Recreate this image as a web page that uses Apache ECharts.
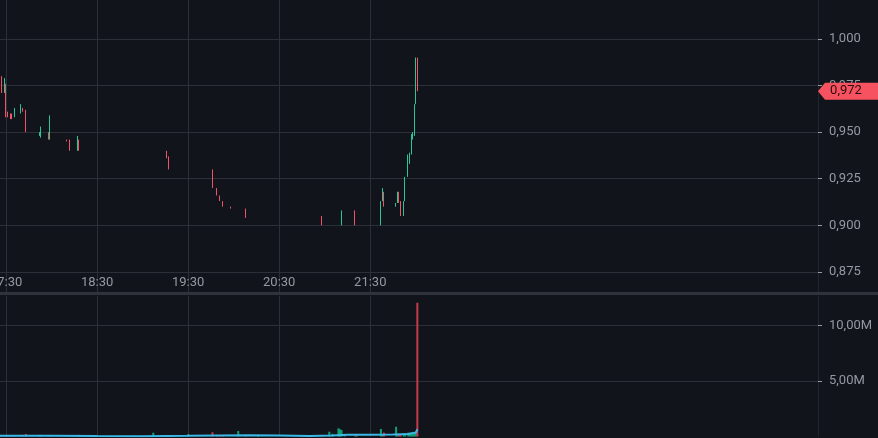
<!DOCTYPE html>
<html>
<head>
    <meta charset="UTF-8">
    <title>Candles 1m</title>
    <script src="https://cdn.jsdelivr.net/npm/echarts@6/dist/echarts.min.js"></script>
    <style>
        html, body { margin: 0; padding: 0; background: #12141b; }
        #chart { width: 878px; height: 438px; }
    </style>
</head>
<body>
<div id="chart"></div>
<script>
    // 1 minute bars: [time, open, close, low, high]
    var candles = [
        ['17:26', 0.983, 0.976, 0.975, 0.984],
        ['17:27', 0.979, 0.971, 0.971, 0.980],
        ['17:29', 0.971, 0.978, 0.971, 0.979],
        ['17:30', 0.975, 0.960, 0.958, 0.976],
        ['17:31', 0.961, 0.958, 0.958, 0.961],
        ['17:33', 0.960, 0.958, 0.957, 0.960],
        ['17:34', 0.959, 0.958, 0.957, 0.960],
        ['17:36', 0.958, 0.963, 0.958, 0.963],
        ['17:40', 0.960, 0.965, 0.960, 0.965],
        ['17:41', 0.963, 0.961, 0.961, 0.963],
        ['17:43', 0.962, 0.950, 0.950, 0.962],
        ['17:52', 0.948, 0.950, 0.948, 0.950],
        ['17:53', 0.947, 0.953, 0.947, 0.953],
        ['17:58', 0.950, 0.946, 0.946, 0.950],
        ['17:59', 0.946, 0.959, 0.946, 0.959],
        ['18:10', 0.946, 0.945, 0.945, 0.946],
        ['18:12', 0.946, 0.940, 0.940, 0.946],
        ['18:17', 0.940, 0.948, 0.940, 0.948],
        ['18:18', 0.946, 0.940, 0.940, 0.946],
        ['19:16', 0.940, 0.937, 0.936, 0.940],
        ['19:17', 0.937, 0.930, 0.930, 0.937],
        ['19:46', 0.930, 0.920, 0.920, 0.930],
        ['19:49', 0.920, 0.916, 0.916, 0.920],
        ['19:51', 0.916, 0.913, 0.913, 0.916],
        ['19:53', 0.913, 0.910, 0.910, 0.913],
        ['19:58', 0.910, 0.909, 0.909, 0.910],
        ['20:08', 0.909, 0.904, 0.904, 0.909],
        ['20:58', 0.905, 0.900, 0.900, 0.905],
        ['21:11', 0.900, 0.908, 0.900, 0.908],
        ['21:20', 0.908, 0.900, 0.900, 0.908],
        ['21:37', 0.900, 0.913, 0.900, 0.913],
        ['21:38', 0.913, 0.920, 0.913, 0.920],
        ['21:39', 0.918, 0.910, 0.910, 0.918],
        ['21:47', 0.910, 0.912, 0.910, 0.912],
        ['21:48', 0.912, 0.918, 0.912, 0.918],
        ['21:49', 0.918, 0.912, 0.912, 0.918],
        ['21:50', 0.912, 0.905, 0.905, 0.913],
        ['21:52', 0.905, 0.912, 0.905, 0.913],
        ['21:53', 0.913, 0.926, 0.913, 0.926],
        ['21:55', 0.926, 0.937, 0.926, 0.938],
        ['21:56', 0.933, 0.939, 0.933, 0.939],
        ['21:57', 0.938, 0.949, 0.938, 0.949],
        ['21:58', 0.946, 0.949, 0.946, 0.950],
        ['21:59', 0.948, 0.965, 0.948, 0.965],
        ['22:00', 0.965, 0.990, 0.965, 0.990],
        ['22:01', 0.990, 0.972, 0.972, 0.990]
    ];

    // [time, volume, direction (1 up / -1 down)]
    var volumes = [
        ['17:26', 0.10e6, -1], ['17:27', 0.08e6, -1], ['17:29', 0.05e6, 1],
        ['17:30', 0.12e6, -1], ['17:31', 0.04e6, -1], ['17:33', 0.03e6, -1],
        ['17:34', 0.03e6, -1], ['17:36', 0.06e6, 1], ['17:40', 0.05e6, 1],
        ['17:41', 0.03e6, -1], ['17:43', 0.23e6, -1], ['17:52', 0.05e6, 1],
        ['17:53', 0.14e6, 1], ['17:58', 0.05e6, -1], ['17:59', 0.10e6, 1],
        ['18:10', 0.02e6, -1], ['18:12', 0.05e6, -1], ['18:17', 0.08e6, 1],
        ['18:18', 0.15e6, -1], ['19:07', 0.34e6, 1], ['19:16', 0.10e6, -1],
        ['19:17', 0.08e6, -1], ['19:30', 0.22e6, 1], ['19:46', 0.38e6, -1],
        ['19:49', 0.08e6, -1], ['19:51', 0.10e6, -1], ['19:53', 0.08e6, -1],
        ['20:03', 0.50e6, 1], ['20:08', 0.10e6, -1], ['20:16', 0.12e6, 1],
        ['20:58', 0.10e6, -1], ['21:03', 0.43e6, 1], ['21:05', 0.25e6, 1],
        ['21:09', 0.74e6, 1], ['21:10', 0.65e6, 1], ['21:11', 0.59e6, 1],
        ['21:13', 0.20e6, 1], ['21:20', 0.10e6, -1], ['21:21', 0.10e6, 1],
        ['21:37', 0.68e6, 1], ['21:38', 0.20e6, 1], ['21:39', 0.35e6, -1],
        ['21:47', 0.88e6, 1], ['21:48', 0.20e6, 1], ['21:49', 0.15e6, -1],
        ['21:50', 0.20e6, -1], ['21:52', 0.30e6, 1], ['21:53', 0.30e6, 1],
        ['21:55', 0.35e6, 1], ['21:56', 0.30e6, 1], ['21:57', 0.38e6, 1],
        ['21:58', 0.30e6, 1], ['21:59', 0.42e6, 1], ['22:00', 0.45e6, 1],
        ['22:01', 12.05e6, -1]
    ];

    // volume moving average, [time, value]
    var volumeMa = [
        ['17:26', 0.06e6], ['18:00', 0.06e6], ['18:30', 0.04e6], ['19:00', 0.03e6],
        ['19:30', 0.06e6], ['19:50', 0.10e6], ['20:10', 0.12e6], ['20:30', 0.08e6],
        ['20:50', 0.04e6], ['21:05', 0.08e6], ['21:15', 0.15e6], ['21:30', 0.15e6],
        ['21:45', 0.18e6], ['21:55', 0.22e6], ['22:00', 0.35e6], ['22:01', 0.65e6]
    ];

    var timeLabels = ['17:30', '18:30', '19:30', '20:30', '21:30'];
    var priceTicks = [0.875, 0.900, 0.925, 0.950, 0.975, 1.000];
    var volumeTicks = [5e6, 10e6];

    var upColor = '#26c795', downColor = '#ef5466';
    var gridColor = '#2c2f38', textColor = '#9598a1';

    // minute slots on the time axis
    var startMinute = 17 * 60 + 26, minuteCount = 540;
    function pad(n) { return (n < 10 ? '0' : '') + n; }
    var minutes = [];
    for (var i = 0; i < minuteCount; i++) {
        var t = (startMinute + i) % 1440;
        minutes.push(pad(Math.floor(t / 60)) + ':' + pad(t % 60));
    }

    var lastClose = candles[candles.length - 1][2];
    function comma(v, d) { return v.toFixed(d).replace('.', ','); }
    function isLabel(idx, value) { return timeLabels.indexOf(value) >= 0; }

    var chart = echarts.init(document.getElementById('chart'));
    chart.setOption({
        backgroundColor: '#12141b',
        animation: false,
        textStyle: { fontFamily: 'Roboto, "Noto Sans", sans-serif' },
        graphic: [{
            type: 'rect', left: 0, top: 292, z: 10,
            shape: { width: 878, height: 3 },
            style: { fill: '#30333c' }
        }],
        grid: [
            { left: 0, right: 60, top: 0, height: 293, containLabel: false, outerBoundsMode: 'none' },
            { left: 0, right: 60, top: 296, height: 140.5, containLabel: false, outerBoundsMode: 'none' }
        ],
        xAxis: [{
            type: 'category', gridIndex: 0, data: minutes, boundaryGap: false,
            axisLine: { show: false },
            axisTick: { show: false },
            axisLabel: {
                inside: true, interval: isLabel, color: textColor,
                fontSize: 13, margin: 4
            },
            splitLine: { show: true, interval: isLabel, lineStyle: { color: gridColor } }
        }, {
            type: 'category', gridIndex: 1, data: minutes, boundaryGap: false,
            axisLine: { show: false },
            axisTick: { show: false },
            axisLabel: { show: false },
            splitLine: { show: true, interval: isLabel, lineStyle: { color: gridColor } }
        }],
        yAxis: [{
            type: 'value', gridIndex: 0, position: 'right',
            min: 0.8637, max: 1.0209,
            axisLine: { show: true, lineStyle: { color: '#22252d' } },
            axisTick: { show: true, length: 4, customValues: priceTicks, lineStyle: { color: textColor } },
            axisLabel: {
                customValues: priceTicks, color: textColor, fontSize: 13, margin: 11,
                formatter: function (v) { return comma(v, 3); }
            },
            splitLine: { show: true, lineStyle: { color: gridColor } }
        }, {
            type: 'value', gridIndex: 1, position: 'right',
            min: 0, max: 12.66e6,
            axisLine: { show: true, lineStyle: { color: '#22252d' } },
            axisTick: { show: true, length: 4, customValues: volumeTicks, lineStyle: { color: textColor } },
            axisLabel: {
                customValues: volumeTicks, color: textColor, fontSize: 13, margin: 11,
                formatter: function (v) { return comma(v / 1e6, 2) + 'M'; }
            },
            splitLine: { show: true, lineStyle: { color: gridColor } }
        }],
        series: [{
            type: 'candlestick', xAxisIndex: 0, yAxisIndex: 0,
            data: candles,
            encode: { x: 0, y: [1, 2, 3, 4] },
            barWidth: 0.6,
            itemStyle: {
                color: upColor, color0: downColor,
                borderColor: upColor, borderColor0: downColor, borderWidth: 1
            },
            markPoint: {
                silent: true,
                symbol: 'path://M0,8.5 L7,0 L60,0 L60,17 L7,17 Z',
                symbolSize: [60, 17],
                symbolKeepAspect: false,
                symbolOffset: [30, 0],
                itemStyle: { color: '#f7525f' },
                label: {
                    show: true, position: 'inside', offset: [-2, 0],
                    color: '#2a0c10', fontSize: 13,
                    formatter: function () { return comma(lastClose, 3); }
                },
                data: [{ coord: [minutes[minuteCount - 1], lastClose] }]
            }
        }, {
            type: 'bar', xAxisIndex: 1, yAxisIndex: 1,
            barWidth: 2,
            data: volumes.map(function (v) {
                return {
                    value: [v[0], v[1]],
                    itemStyle: { color: v[2] > 0 ? '#12a074' : '#c43b4b' }
                };
            })
        }, {
            type: 'line', xAxisIndex: 1, yAxisIndex: 1,
            data: volumeMa, showSymbol: false, smooth: false,
            lineStyle: { color: '#3bb9e6', width: 2 },
            z: 3
        }]
    });
</script>
</body>
</html>
